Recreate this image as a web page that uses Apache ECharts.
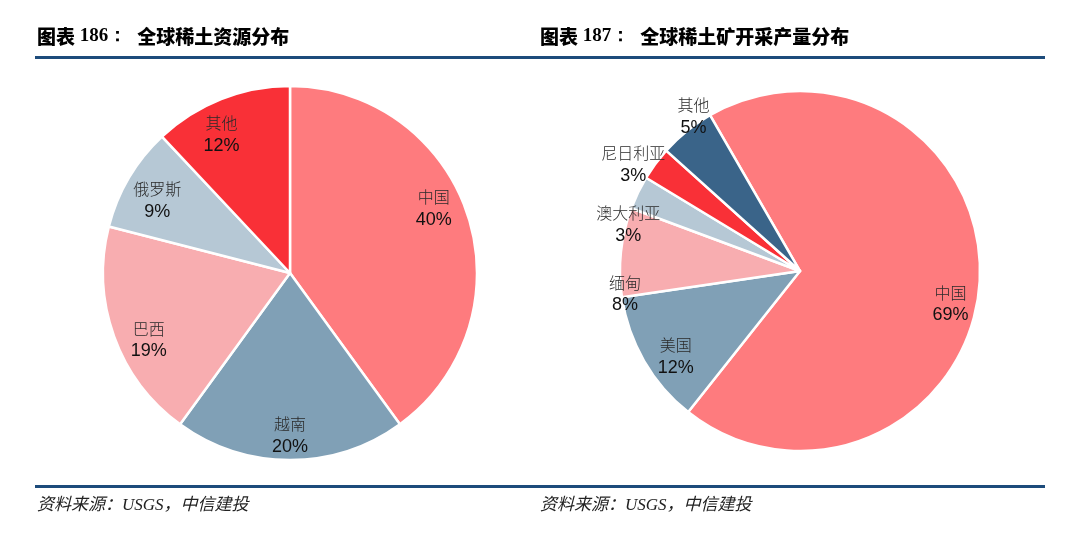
<!DOCTYPE html>
<html>
<head>
<meta charset="utf-8">
<script src="https://cdn.jsdelivr.net/npm/echarts@6/dist/echarts.min.js"></script>
<style>
html,body{margin:0;padding:0;background:#fff;}
#main{width:1080px;height:546px;}
</style>
</head>
<body>
<div id="main"></div>
<script>
//全球稀土资源分布
var resNames = ['中国', '越南', '巴西', '俄罗斯', '其他'];
var resValues = [40, 20, 19, 9, 12];
//全球稀土矿开采产量分布
var mineNames = ['中国', '美国', '缅甸', '澳大利亚', '尼日利亚', '其他'];
var mineValues = [69, 12, 8, 3, 3, 5];

var resColors = ['#fe7b7e', '#80a0b6', '#f8adb0', '#b6c8d5', '#f93037'];
var mineColors = ['#fe7b7e', '#80a0b6', '#f8adb0', '#b6c8d5', '#f93037', '#3a6489'];

//标签微调
var resNudge = {'中国': [-5, -16], '越南': [0, 6], '巴西': [6, 14], '俄罗斯': [2, 7], '其他': [-11, 7]};
var mineNudge = {'中国': [-12, 21], '美国': [17, 4], '缅甸': [-13, 40], '澳大利亚': [-25, 24], '尼日利亚': [-36, -9], '其他': [-4, -28]};

var myChart = echarts.init(document.getElementById('main'));

function pieData(names, values, colors) {
	var arr = [];
	for (var i = 0; i < names.length; i++) {
		arr.push({name: names[i], value: values[i], itemStyle: {color: colors[i]}});
	}
	return arr;
}
function labelData(names, values, nudge) {
	var arr = [];
	for (var i = 0; i < names.length; i++) {
		arr.push({name: names[i], value: values[i], label: {offset: nudge[names[i]]}});
	}
	return arr;
}

var labelStyle = {
	show: true,
	position: 'inside',
	formatter: '{n|{b}}\n{p|{c}%}',
	rich: {
		n: {fontFamily: 'Noto Sans CJK SC', fontSize: 16, color: '#2a2a2a', lineHeight: 23, fontWeight: 300},
		p: {fontFamily: 'Liberation Sans', fontSize: 18, color: '#111', lineHeight: 23}
	}
};

var titleRich = {
	h: {fontFamily: 'Noto Sans CJK SC', fontWeight: 900, fontSize: 19, color: '#000'},
	d: {fontFamily: 'Liberation Serif', fontWeight: 'bold', fontSize: 19, color: '#000'}
};
var footStyle = {fontFamily: 'Liberation Serif, Noto Sans CJK SC', fontStyle: 'italic', fontWeight: 'normal', fontSize: 17, color: '#222'};

option = {
	backgroundColor: '#fff',
	animation: false,
	title: [
		{text: '{h|图表}{d| 186：}  {h|全球稀土资源分布}', left: 32, top: 22, textStyle: {rich: titleRich}},
		{text: '{h|图表}{d| 187：}  {h|全球稀土矿开采产量分布}', left: 535, top: 22, textStyle: {rich: titleRich}},
		{text: '资料来源：USGS，中信建投', left: 32, top: 492, textStyle: footStyle},
		{text: '资料来源：USGS，中信建投', left: 535, top: 492, textStyle: footStyle}
	],
	graphic: [
		{type: 'rect', shape: {x: 35, y: 56, width: 1010, height: 3}, style: {fill: '#1d4b7b'}},
		{type: 'rect', shape: {x: 35, y: 485, width: 1010, height: 3}, style: {fill: '#1d4b7b'}}
	],
	series: [
		{
			type: 'pie',
			center: [290, 273],
			radius: [0, 187],
			startAngle: 90,
			silent: true,
			label: {show: false},
			labelLine: {show: false},
			itemStyle: {borderColor: '#fff', borderWidth: 2.5},
			data: pieData(resNames, resValues, resColors)
		},
		{
			type: 'pie',
			center: [290, 273],
			radius: [120, 187],
			startAngle: 90,
			silent: true,
			itemStyle: {color: 'rgba(0,0,0,0)'},
			label: labelStyle,
			labelLine: {show: false},
			data: labelData(resNames, resValues, resNudge)
		},
		{
			type: 'pie',
			center: [800, 271],
			radius: [0, 180],
			startAngle: 120,
			silent: true,
			label: {show: false},
			labelLine: {show: false},
			itemStyle: {borderColor: '#fff', borderWidth: 2.5},
			data: pieData(mineNames, mineValues, mineColors)
		},
		{
			type: 'pie',
			center: [800, 271],
			radius: [140, 180],
			startAngle: 120,
			silent: true,
			itemStyle: {color: 'rgba(0,0,0,0)'},
			label: labelStyle,
			labelLine: {show: false},
			data: labelData(mineNames, mineValues, mineNudge)
		}
	]
};
if (option && typeof option === "object") {
	myChart.setOption(option, true);
}
</script>
</body>
</html>
